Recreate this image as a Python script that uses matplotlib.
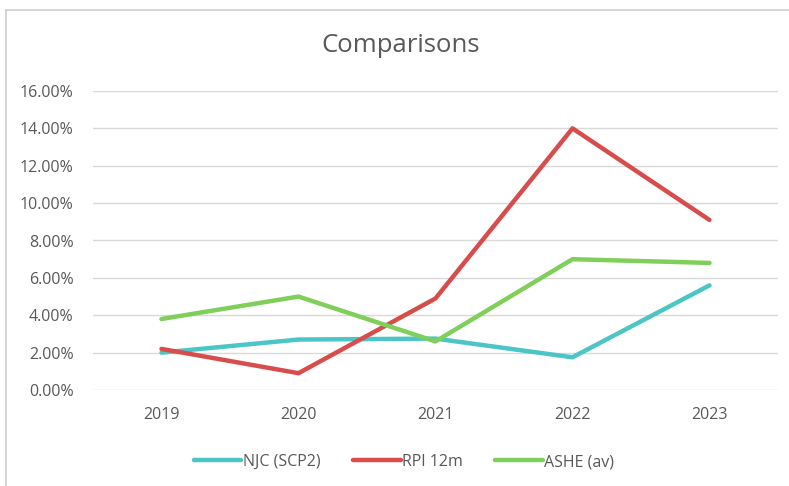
import matplotlib as mpl
import matplotlib.pyplot as plt
from matplotlib.ticker import FuncFormatter, MultipleLocator

mpl.use('Agg')

years = ['2019', '2020', '2021', '2022', '2023']
njc = [2.0, 2.7, 2.75, 1.75, 5.6]
rpi = [2.2, 0.9, 4.9, 14.0, 9.1]
ashe = [3.8, 5.0, 2.6, 7.0, 6.8]

plt.rcParams['font.family'] = ['Open Sans', 'DejaVu Sans']
text_color = '#595959'

fig = plt.figure(figsize=(7.89, 4.86), dpi=100)
W, H = 789, 486

# chart border (only left and top visible in the crop)
fig.add_artist(plt.Line2D([6 / W, 6 / W], [0, 1 - 10 / H], color='#d0d0d0', lw=1.2))
fig.add_artist(plt.Line2D([6 / W, 1], [1 - 10 / H, 1 - 10 / H], color='#d0d0d0', lw=1.2))

ax = fig.add_axes([93 / W, 1 - 390 / H, (778 - 93) / W, (390 - 91) / H])

x = range(len(years))
ax.plot(x, njc, color='#4bc5c5', lw=3.2, label='NJC (SCP2)', solid_capstyle='round')
ax.plot(x, rpi, color='#d94c4c', lw=3.2, label='RPI 12m', solid_capstyle='round')
ax.plot(x, ashe, color='#7fcf5a', lw=3.2, label='ASHE (av)', solid_capstyle='round')

ax.set_xlim(-0.5, len(years) - 0.5)
ax.set_ylim(0, 16)
ax.yaxis.set_major_locator(MultipleLocator(2))
ax.yaxis.set_major_formatter(FuncFormatter(lambda v, p: f'{v:.2f}%'))
ax.set_xticks(list(x))
ax.set_xticklabels(years)

ax.grid(axis='y', color='#d9d9d9', lw=1)
ax.set_axisbelow(True)
for s in ax.spines.values():
    s.set_visible(False)
ax.tick_params(length=0, colors=text_color, labelsize=11.5)
ax.tick_params(axis='y', pad=14)
ax.tick_params(axis='x', pad=12)

fig.text(401 / W, 1 - 45 / H, 'Comparisons', ha='center', va='center', fontsize=18.5, color=text_color)

leg = ax.legend(loc='center', bbox_to_anchor=(404 / W, 1 - 462 / H), bbox_transform=fig.transFigure,
                ncol=3, frameon=False, fontsize=11.5, handlelength=3.0, handletextpad=0.1, columnspacing=2.0)
for t in leg.get_texts():
    t.set_color(text_color)

fig.savefig('out.png', dpi=100)
